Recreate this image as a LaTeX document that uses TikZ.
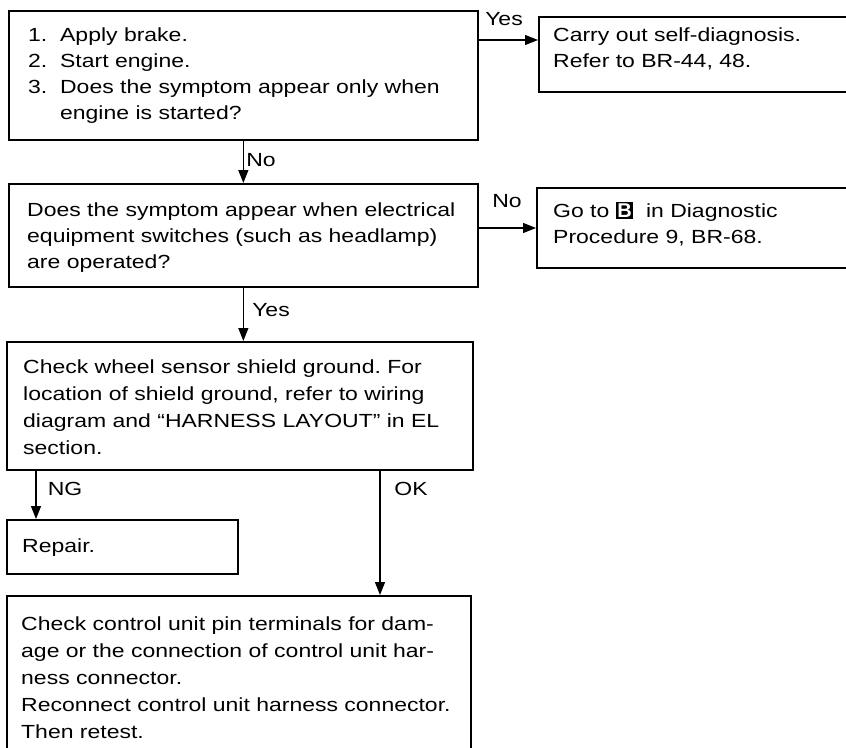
\documentclass[tikz,border=0pt]{standalone}
\usepackage{fontspec}
\setmainfont{Liberation Sans}[FakeStretch=1.21]
\usetikzlibrary{arrows.meta}
\newcommand{\bicon}{{\setlength{\fboxsep}{1.5pt}\colorbox{black}{\textcolor{white}{\fontsize{20}{20}\selectfont\addfontfeature{FakeStretch=1.0}\bfseries B}}}}
\begin{document}
\begin{tikzpicture}[x=1pt,y=-1pt,
  box/.style={draw, line width=1.7pt, inner sep=0pt, anchor=north west},
  txt/.style={anchor=north west, inner sep=0pt, align=left, font=\fontsize{19}{26}\selectfont\frenchspacing},
  txtb/.style={txt, font=\fontsize{19}{27}\selectfont\frenchspacing},
  lbl/.style={inner sep=0pt, font=\fontsize{19}{26}\selectfont},
  arr/.style={line width=1.1pt, -{Triangle[length=13pt,width=10pt]}}]
\useasboundingbox (0,0) rectangle (846,747);
\clip (0,0) rectangle (846,747);
\fill[white] (0,0) rectangle (846,747);
% boxes
\node[box, minimum width=469pt, minimum height=129pt] (b1) at (8,10) {};
\node[box, minimum width=312pt, minimum height=75pt] (b2) at (538,16) {};
\node[box, minimum width=469pt, minimum height=103pt] (b3) at (8,183) {};
\node[box, minimum width=314pt, minimum height=80pt] (b4) at (536,187) {};
\node[box, minimum width=466pt, minimum height=128pt] (b5) at (6,341) {};
\node[box, minimum width=231pt, minimum height=54pt] (b6) at (6,519) {};
\node[box, minimum width=464pt, minimum height=170pt] (b7) at (6,595) {};
% texts
\node[txt] (t1) at (28,28) {1.\ \ Apply brake.\\2.\ \ Start engine.\\3.\ \ Does the symptom appear only when\\\phantom{3.\ \ }engine is started?};
\node[txt] (t2) at (553,28) {Carry out self-diagnosis.\\Refer to BR-44, 48.};
\node[txt] (t3) at (27,203) {Does the symptom appear when electrical\\equipment switches (such as headlamp)\\are operated?};
\node[txt] (t4) at (553,202) {Go to \bicon\ \ in Diagnostic\\Procedure 9, BR-68.};
\node[txtb] (t5) at (23,360) {Check wheel sensor shield ground. For\\location of shield ground, refer to wiring\\diagram and ``HARNESS LAYOUT'' in EL\\section.};
\node[txt] (t6) at (22,539) {Repair.};
\node[txtb] (t7) at (21,617) {Check control unit pin terminals for dam-\\age or the connection of control unit har-\\ness connector.\\Reconnect control unit harness connector.\\Then retest.};
% connectors
\coordinate (yy) at (0,40);
\draw[arr] (b1.east |- yy) -- (b2.west |- yy);
\draw[arr] (b1.south) -- (b1.south |- b3.north);
\coordinate (ny) at (0,228);
\draw[arr] (b3.east |- ny) -- (b4.west |- ny);
\draw[arr] (b3.south) -- (b3.south |- b5.north);
\coordinate (ngx) at (36,0);
\draw[arr] (ngx |- b5.south) -- (ngx |- b6.north);
\coordinate (okx) at (380,0);
\draw[arr] (okx |- b5.south) -- (okx |- b7.north);
% labels
\node[lbl] (l1) at (504,19) {Yes};
\node[lbl] (l2) at (261,160) {No};
\node[lbl] (l3) at (507,201) {No};
\node[lbl] (l4) at (271,310) {Yes};
\node[lbl] (l5) at (65,489) {NG};
\node[lbl] (l6) at (411,489) {OK};
\end{tikzpicture}
\end{document}
